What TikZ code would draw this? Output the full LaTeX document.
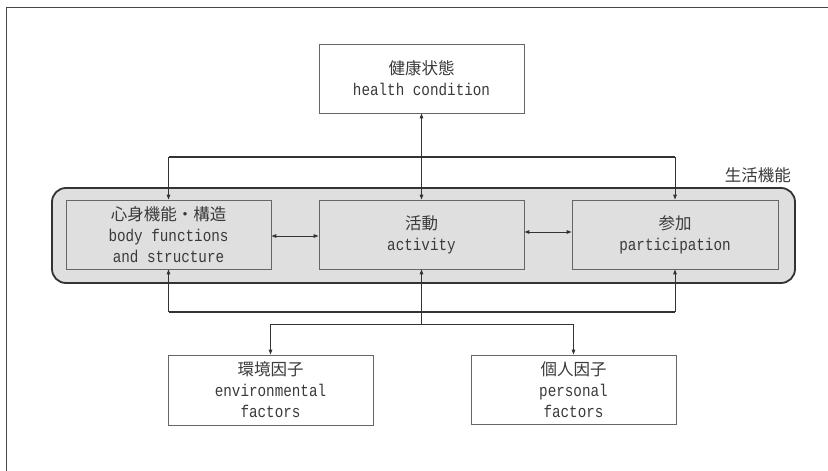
\documentclass[tikz,border=0pt]{standalone}
\usepackage{fontspec}
\setmainfont[FakeStretch=0.84]{Liberation Mono}
\newfontfamily\jp{Noto Sans CJK JP}
\usetikzlibrary{arrows.meta}
\definecolor{ink}{HTML}{333333}
\definecolor{txt}{HTML}{3A3A3A}
\definecolor{boxline}{HTML}{666666}
\definecolor{panel}{HTML}{DFDFDF}
\newcommand{\J}[1]{{\jp\fontsize{16.5}{21}\selectfont #1}}
\tikzset{
  box/.style={draw=boxline, line width=0.9pt, minimum width=205pt, minimum height=69pt,
    align=center, inner sep=0pt, text=txt, font=\fontsize{17}{21}\selectfont},
  inbox/.style={box, fill=panel},
  arr/.style={draw=ink, line width=1pt, -{Triangle[length=5pt,width=3.6pt]}},
  darr/.style={draw=ink, line width=1pt, {Triangle[length=5pt,width=3.6pt]}-{Triangle[length=5pt,width=3.6pt]}},
  thick line/.style={draw=ink, line width=1.8pt},
  thin line/.style={draw=ink, line width=1pt}
}
\begin{document}
\begin{tikzpicture}[x=1pt,y=-1pt]
\useasboundingbox (0,0) rectangle (828,471);
% outer frame (top and left edges)
\draw[draw=ink!90, line width=1.8pt] (6.5,471) -- (6.5,7.5) -- (828,7.5);
% big rounded panel
\node[draw=ink, line width=1.8pt, fill=panel, rounded corners=14pt, minimum width=743pt, minimum height=95pt, inner sep=0pt] (panel) at (423.5,235.5) {};
\node[text=txt, font=\jp\fontsize{16.5}{20}\selectfont, anchor=east, inner sep=0pt] (plabel) at (791,175) {生活機能};
% boxes
\node[box] (hc) at (421.5,78.5) {\J{健康状態}\\health condition};
\node[inbox] (body) at (168.5,234.5) {\J{心身機能・構造}\\body functions\\and structure};
\node[inbox] (act) at (421.5,234.5) {\J{活動}\\activity};
\node[inbox, minimum width=206pt] (part) at (675,234.5) {\J{参加}\\participation};
\node[box, minimum height=70pt] (env) at (270.5,390) {\J{環境因子}\\environmental\\factors};
\node[box] (pers) at (573.5,389.5) {\J{個人因子}\\personal\\factors};
% junction coordinates
\coordinate (t1) at (168.5,157);
\coordinate (t2) at (675,157);
\coordinate (b1) at (168.5,312);
\coordinate (b2) at (675,312);
\coordinate (bm) at (421.5,324);
\coordinate (e1) at (270.5,324);
\coordinate (p1) at (573.5,324);
% top connectors
\draw[thick line] (t1) -- (t2);
\draw[arr] (t1) -- (body.north);
\draw[arr] (t2) -- (part.north);
\draw[darr] (hc.south) -- (act.north);
% middle connectors
\draw[darr] ([yshift=-1.5pt]body.east) -- ([yshift=-1.5pt]act.west);
\draw[darr] ([yshift=2.5pt]act.east) -- ([yshift=2.5pt]part.west);
% bottom connectors
\draw[thick line] (b1) -- (b2);
\draw[arr] (b1) -- (body.south);
\draw[arr] (b2) -- (part.south);
\draw[arr] (bm) -- (act.south);
\draw[thin line] (e1) -- (p1);
\draw[arr] (e1) -- (env.north);
\draw[arr] (p1) -- (pers.north);
\end{tikzpicture}
\end{document}
